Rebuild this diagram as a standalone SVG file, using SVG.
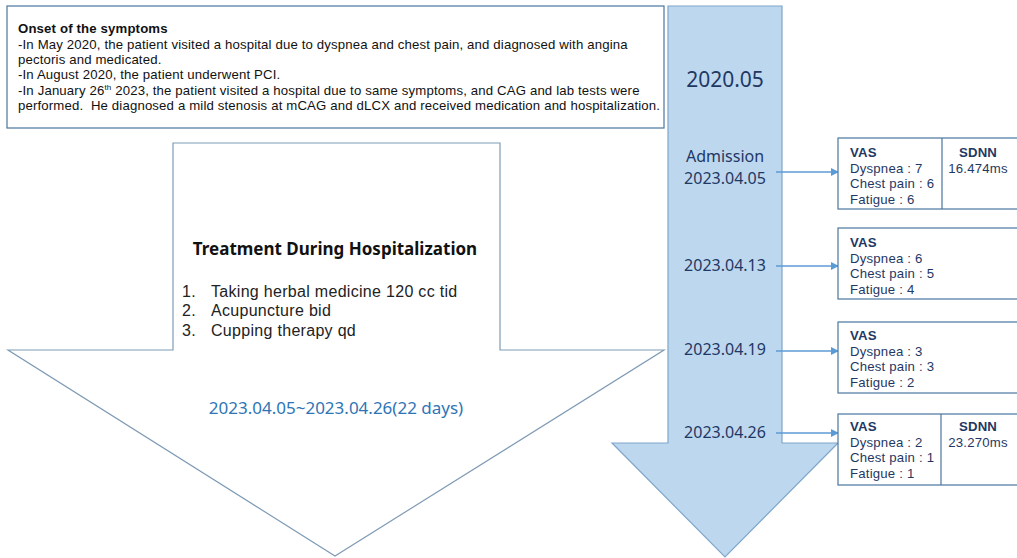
<svg xmlns="http://www.w3.org/2000/svg" width="1017" height="558" viewBox="0 0 1017 558">
<style>
.t{font-family:"Noto Sans","Liberation Sans",sans-serif;fill:#111}
.top{font-family:"Liberation Sans",Arial,sans-serif;font-size:13.2px;letter-spacing:0.15px}
.b{font-weight:bold}
.nav{font-family:"Noto Sans","Liberation Sans",sans-serif;fill:#1f3864}
.date{font-size:16px;text-anchor:middle}
.box{fill:#fff;stroke:#4a76a0;stroke-width:1.2}
.bt{font-family:"Liberation Sans",Arial,sans-serif;font-size:13.2px;letter-spacing:0.2px}
.li{font-family:"Liberation Sans",Arial,sans-serif;font-size:16px;fill:#222;letter-spacing:0.3px}
.conn{stroke:#5b9bd5;stroke-width:1.3;fill:none}
</style>
<defs>
<marker id="ah" markerWidth="8" markerHeight="8" refX="7" refY="4" orient="auto" markerUnits="userSpaceOnUse">
<path d="M0,0 L8,4 L0,8 z" fill="#5b9bd5"/>
</marker>
</defs>
<rect width="1017" height="558" fill="#fff"/>
<g id="timeline-arrow">
<polygon points="668,6 782,6 782,443 838,443 725,557 612,443 668,443" fill="#bdd7ee" stroke="#7fa6c9" stroke-width="1.2"/>
<text class="nav" x="725" y="87" font-size="21" text-anchor="middle">2020.05</text>
<text class="nav date" x="725" y="162">Admission</text>
<text class="nav date" x="725" y="184">2023.04.05</text>
<text class="nav date" x="725" y="271">2023.04.13</text>
<text class="nav date" x="725" y="355">2023.04.19</text>
<text class="nav date" x="725" y="438">2023.04.26</text>
</g>
<g id="onset">
<rect x="7" y="6" width="657" height="122" fill="#fff" stroke="#4a76a0" stroke-width="1.2"/>
<text class="t top b" x="18" y="33">Onset of the symptoms</text>
<text class="t top" x="18" y="48.5">-In May 2020, the patient visited a hospital due to dyspnea and chest pain, and diagnosed with angina</text>
<text class="t top" x="18" y="64">pectoris and medicated.</text>
<text class="t top" x="18" y="79">-In August 2020, the patient underwent PCI.</text>
<text class="t top" x="18" y="94.5">-In January 26<tspan font-size="8" dy="-5">th</tspan><tspan dy="5"> 2023, the patient visited a hospital due to same symptoms, and CAG and lab tests were</tspan></text>
<text class="t top" x="18" y="110" xml:space="preserve">performed.  He diagnosed a mild stenosis at mCAG and dLCX and received medication and hospitalization.</text>
</g>
<g id="treatment">
<polygon points="173,143 500,143 500,350 664,350 335,556 8,350 173,350" fill="#fff" stroke="#7f9bb5" stroke-width="1.2"/>
<text class="t b" x="335" y="255" font-size="17" text-anchor="middle">Treatment During Hospitalization</text>
<text class="t li" x="182" y="297">1.</text>
<text class="t li" x="211" y="297">Taking herbal medicine 120 cc tid</text>
<text class="t li" x="182" y="316">2.</text>
<text class="t li" x="211" y="316">Acupuncture bid</text>
<text class="t li" x="182" y="336">3.</text>
<text class="t li" x="211" y="336">Cupping therapy qd</text>
<text x="336" y="414" font-family="Noto Sans, Liberation Sans, sans-serif" font-size="17" fill="#2e75b6" text-anchor="middle">2023.04.05~2023.04.26(22 days)</text>
</g>
<g id="connectors">
<line class="conn" x1="776" y1="172" x2="838" y2="172" marker-end="url(#ah)"/>
<line class="conn" x1="776" y1="266" x2="838" y2="266" marker-end="url(#ah)"/>
<line class="conn" x1="776" y1="351" x2="838" y2="351" marker-end="url(#ah)"/>
<line class="conn" x1="776" y1="433" x2="838" y2="433" marker-end="url(#ah)"/>
</g>
<g id="box1">
<rect class="box" x="838" y="138" width="185" height="71"/>
<line x1="942" y1="138" x2="942" y2="209" stroke="#4a76a0" stroke-width="1.2"/>
<text class="nav bt b" x="850" y="157">VAS</text>
<text class="nav bt" x="850" y="172.5">Dyspnea : 7</text>
<text class="nav bt" x="850" y="188">Chest pain : 6</text>
<text class="nav bt" x="850" y="203.5">Fatigue : 6</text>
<text class="nav bt b" x="978" y="157" text-anchor="middle">SDNN</text>
<text class="nav bt" x="978" y="172.5" text-anchor="middle">16.474ms</text>
</g>
<g id="box2">
<rect class="box" x="838" y="228" width="185" height="71"/>
<text class="nav bt b" x="850" y="247">VAS</text>
<text class="nav bt" x="850" y="262.5">Dyspnea : 6</text>
<text class="nav bt" x="850" y="278">Chest pain : 5</text>
<text class="nav bt" x="850" y="293.5">Fatigue : 4</text>
</g>
<g id="box3">
<rect class="box" x="838" y="322" width="185" height="71"/>
<text class="nav bt b" x="850" y="340">VAS</text>
<text class="nav bt" x="850" y="355.5">Dyspnea : 3</text>
<text class="nav bt" x="850" y="371">Chest pain : 3</text>
<text class="nav bt" x="850" y="386.5">Fatigue : 2</text>
</g>
<g id="box4">
<rect class="box" x="838" y="414" width="185" height="71"/>
<line x1="941" y1="414" x2="941" y2="485" stroke="#4a76a0" stroke-width="1.2"/>
<text class="nav bt b" x="850" y="431">VAS</text>
<text class="nav bt" x="850" y="446.5">Dyspnea : 2</text>
<text class="nav bt" x="850" y="462">Chest pain : 1</text>
<text class="nav bt" x="850" y="477.5">Fatigue : 1</text>
<text class="nav bt b" x="978" y="431" text-anchor="middle">SDNN</text>
<text class="nav bt" x="978" y="446.5" text-anchor="middle">23.270ms</text>
</g>
</svg>
